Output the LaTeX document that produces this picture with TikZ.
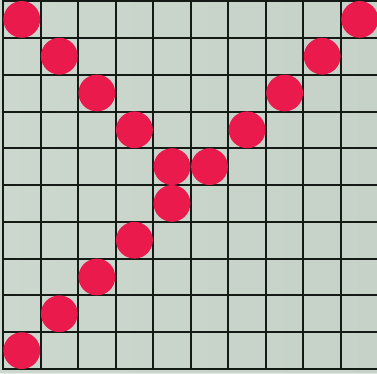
\documentclass[tikz,border=0pt]{standalone}
\definecolor{boardbg}{HTML}{CCD7CD}
\definecolor{boardbg2}{HTML}{C2CFC5}
\definecolor{gridline}{HTML}{141A16}
\definecolor{stone}{HTML}{EB1A4C}
\tikzset{
  gridln/.style={draw=gridline, line width=2pt},
  stonedot/.style={circle, fill=stone, draw=none, minimum size=36.8pt, inner sep=0pt}
}
\begin{document}
\begin{tikzpicture}[x=1pt,y=-1pt]
\useasboundingbox (0,0) rectangle (377,373);
\fill[boardbg] (0,0) rectangle (377,373);
\shade[left color=boardbg, right color=boardbg2, opacity=0.5] (0,0) rectangle (377,373);
% vertical lines
\foreach \x in {3,41,78,116,153,191,228,266,303,341} {
  \draw[gridln] (\x,-2) -- (\x,370);
}
% horizontal lines
\foreach \y in {1,38,75,112,148,185,222,259,295,332,369} {
  \draw[gridln] (2,\y) -- (380,\y);
}
% stones
\foreach \c/\r [count=\i] in {0/0,1/1,2/2,3/3,4/4,5/4,4/5,3/6,2/7,1/8,0/9,9/0,8/1,7/2,6/3} {
  \node[stonedot] (s\i) at ({3+37.55*(\c+0.5)},{1+36.8*(\r+0.5)}) {};
}
\end{tikzpicture}
\end{document}
